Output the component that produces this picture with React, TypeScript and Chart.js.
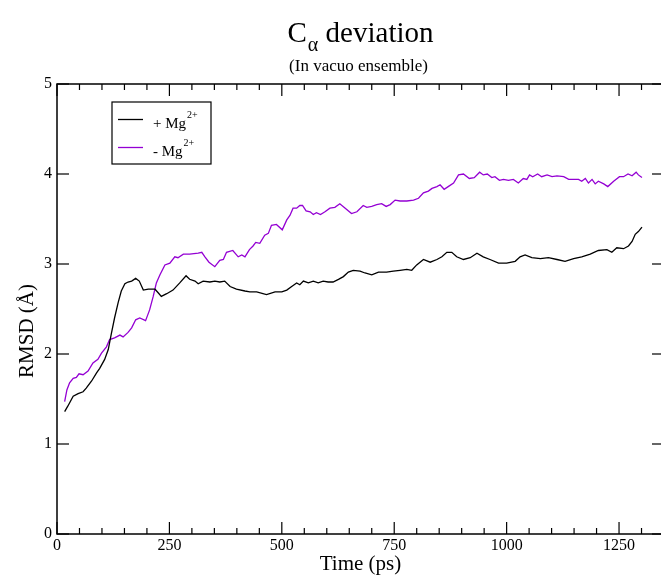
import React, { useEffect, useRef } from "react";
import { Chart, registerables } from "chart.js";

Chart.register(...registerables);

// ---- Data ----
const plusMgTime = [17, 24, 36, 47, 58, 65, 77, 88, 95, 106, 114, 121, 128, 136, 143, 151, 158, 166, 175, 183, 192, 203, 218, 225, 232, 244, 258, 273, 287, 295, 307, 314, 325, 340, 351, 362, 373, 385, 399, 418, 429, 444, 466, 485, 500, 511, 522, 533, 540, 548, 559, 570, 581, 592, 603, 614, 626, 637, 648, 659, 674, 685, 700, 715, 733, 748, 763, 778, 789, 800, 815, 830, 845, 856, 867, 878, 889, 904, 919, 934, 948, 963, 982, 1000, 1019, 1030, 1041, 1056, 1075, 1093, 1112, 1130, 1149, 1167, 1186, 1204, 1223, 1234, 1245, 1260, 1271, 1279, 1286, 1293, 1301];
const plusMgRmsd = [1.36, 1.42, 1.53, 1.56, 1.58, 1.62, 1.70, 1.79, 1.84, 1.94, 2.05, 2.23, 2.40, 2.57, 2.70, 2.78, 2.80, 2.81, 2.84, 2.81, 2.71, 2.72, 2.72, 2.68, 2.64, 2.67, 2.71, 2.79, 2.87, 2.83, 2.81, 2.78, 2.81, 2.80, 2.81, 2.80, 2.81, 2.75, 2.72, 2.70, 2.69, 2.69, 2.66, 2.69, 2.69, 2.71, 2.75, 2.79, 2.77, 2.81, 2.79, 2.81, 2.79, 2.81, 2.80, 2.80, 2.83, 2.86, 2.91, 2.93, 2.92, 2.90, 2.88, 2.91, 2.91, 2.92, 2.93, 2.94, 2.93, 2.99, 3.05, 3.02, 3.05, 3.08, 3.13, 3.13, 3.08, 3.05, 3.07, 3.12, 3.08, 3.05, 3.01, 3.01, 3.03, 3.08, 3.10, 3.07, 3.06, 3.07, 3.05, 3.03, 3.06, 3.08, 3.11, 3.15, 3.16, 3.13, 3.18, 3.17, 3.20, 3.25, 3.33, 3.36, 3.41];

const minusMgTime = [17, 22, 28, 36, 43, 49, 58, 69, 80, 91, 99, 110, 117, 128, 140, 147, 158, 166, 175, 184, 197, 206, 214, 221, 229, 240, 251, 262, 269, 281, 295, 314, 322, 329, 338, 351, 362, 370, 377, 391, 403, 411, 418, 428, 436, 442, 451, 462, 470, 477, 488, 501, 511, 518, 525, 533, 540, 546, 554, 563, 570, 577, 586, 596, 607, 618, 629, 641, 655, 667, 681, 689, 700, 711, 722, 732, 741, 752, 763, 778, 793, 804, 815, 826, 834, 845, 852, 861, 870, 882, 893, 904, 917, 928, 940, 948, 957, 967, 974, 984, 993, 1004, 1015, 1026, 1037, 1045, 1051, 1058, 1069, 1078, 1090, 1101, 1112, 1127, 1138, 1149, 1160, 1167, 1175, 1182, 1190, 1197, 1204, 1216, 1225, 1238, 1251, 1260, 1270, 1279, 1288, 1293, 1301];
const minusMgRmsd = [1.47, 1.60, 1.68, 1.73, 1.74, 1.78, 1.77, 1.81, 1.90, 1.94, 2.01, 2.08, 2.16, 2.18, 2.21, 2.19, 2.24, 2.29, 2.38, 2.40, 2.37, 2.49, 2.64, 2.79, 2.88, 2.99, 3.01, 3.08, 3.07, 3.11, 3.11, 3.12, 3.13, 3.08, 3.02, 2.97, 3.04, 3.05, 3.13, 3.15, 3.08, 3.10, 3.08, 3.16, 3.20, 3.24, 3.23, 3.32, 3.34, 3.43, 3.44, 3.38, 3.49, 3.54, 3.62, 3.62, 3.65, 3.65, 3.59, 3.58, 3.55, 3.57, 3.55, 3.58, 3.62, 3.63, 3.67, 3.62, 3.56, 3.58, 3.65, 3.63, 3.64, 3.66, 3.67, 3.64, 3.66, 3.71, 3.70, 3.70, 3.71, 3.73, 3.79, 3.81, 3.84, 3.86, 3.88, 3.83, 3.86, 3.90, 3.99, 4.00, 3.95, 3.96, 4.02, 3.99, 4.00, 3.96, 3.97, 3.93, 3.94, 3.93, 3.94, 3.90, 3.95, 3.94, 3.99, 3.97, 4.00, 3.97, 3.99, 3.97, 3.98, 3.97, 3.94, 3.94, 3.94, 3.92, 3.95, 3.90, 3.94, 3.89, 3.92, 3.89, 3.86, 3.92, 3.97, 3.97, 4.00, 3.98, 4.02, 3.99, 3.96];

const xMajorTicks = [0, 250, 500, 750, 1000, 1250];
const xMinorTicks = [50, 100, 150, 200, 300, 350, 400, 450, 550, 600, 650, 700, 800, 850, 900, 950, 1050, 1100, 1150, 1200, 1300];
const yMajorTicks = [0, 1, 2, 3, 4, 5];

const seriesLabels = ["+ Mg", "- Mg"];
const seriesSup = "2+";
const titleMain = "C";
const titleSub = "\u03B1";
const titleRest = " deviation";
const subtitleText = "(In vacuo ensemble)";
const xTitle = "Time (ps)";
const yTitle = "RMSD (\u00C5)";

const FONT = "'Liberation Serif', 'Times New Roman', serif";
const BLACK = "#000000";
const VIOLET = "rgb(148,0,211)";

const decorPlugin = {
  id: "decor",
  afterDatasetsDraw(chart: any) {
    const { ctx, chartArea, scales } = chart;
    const { left, right, top, bottom } = chartArea;
    const x = scales.x;
    const y = scales.y;
    ctx.save();
    ctx.strokeStyle = "#000";
    ctx.lineWidth = 1.5;
    ctx.strokeRect(left, top, right - left, bottom - top);
    const seg = (x1: number, y1: number, x2: number, y2: number) => {
      ctx.beginPath();
      ctx.moveTo(x1, y1);
      ctx.lineTo(x2, y2);
      ctx.stroke();
    };
    ctx.lineWidth = 1.2;
    for (const v of xMinorTicks) {
      const px = x.getPixelForValue(v);
      seg(px, bottom, px, bottom - 6);
      seg(px, top, px, top + 6);
    }
    for (const v of xMajorTicks) {
      const px = x.getPixelForValue(v);
      seg(px, bottom, px, bottom - 12);
      seg(px, top, px, top + 12);
    }
    for (const v of yMajorTicks) {
      const py = y.getPixelForValue(v);
      seg(left, py, left + 12, py);
      seg(right, py, right - 12, py);
    }

    // Legend
    const lx = 112, ly = 102, lw = 99, lh = 62;
    ctx.lineWidth = 1.2;
    ctx.strokeRect(lx, ly, lw, lh);
    const rows = [119.5, 147.5];
    chart.data.datasets.forEach((ds: any, i: number) => {
      const ry = rows[i];
      ctx.strokeStyle = ds.borderColor;
      ctx.lineWidth = 1.3;
      seg(118, ry, 143, ry);
      ctx.fillStyle = "#000";
      ctx.textAlign = "left";
      ctx.textBaseline = "alphabetic";
      ctx.font = `15px ${FONT}`;
      const t = seriesLabels[i];
      ctx.fillText(t, 153, ry + 8);
      const w = ctx.measureText(t).width;
      ctx.font = `10px ${FONT}`;
      ctx.fillText(seriesSup, 153 + w + 1, ry - 2);
    });

    // Title
    ctx.fillStyle = "#000";
    ctx.textBaseline = "alphabetic";
    ctx.textAlign = "left";
    ctx.font = `29px ${FONT}`;
    const wC = ctx.measureText(titleMain).width;
    const wR = ctx.measureText(titleRest).width;
    ctx.font = `20px ${FONT}`;
    const wA = ctx.measureText(titleSub).width;
    const total = wC + 1 + wA + wR;
    const cx = (left + right) / 2;
    let tx = cx - total / 2;
    const base = 42;
    ctx.font = `29px ${FONT}`;
    ctx.fillText(titleMain, tx, base);
    tx += wC + 1;
    ctx.font = `20px ${FONT}`;
    ctx.fillText(titleSub, tx, base + 9);
    tx += wA;
    ctx.font = `29px ${FONT}`;
    ctx.fillText(titleRest, tx, base);

    ctx.textAlign = "center";
    ctx.font = `17px ${FONT}`;
    ctx.fillText(subtitleText, cx - 2, 71);

    // Y axis title
    ctx.save();
    ctx.translate(27, 331);
    ctx.rotate(-Math.PI / 2);
    ctx.textAlign = "center";
    ctx.textBaseline = "middle";
    ctx.font = `21px ${FONT}`;
    ctx.fillText(yTitle, 0, 0);
    ctx.restore();

    ctx.restore();
  },
};

export default function App() {
  const ref = useRef<HTMLCanvasElement | null>(null);
  useEffect(() => {
    if (!ref.current) return;
    const chart = new Chart(ref.current, {
      type: "line",
      data: {
        datasets: [
          {
            label: "+ Mg2+",
            data: plusMgTime.map((t, i) => ({ x: t, y: plusMgRmsd[i] })),
            borderColor: BLACK,
            borderWidth: 1.3,
            pointRadius: 0,
            tension: 0,
          },
          {
            label: "- Mg2+",
            data: minusMgTime.map((t, i) => ({ x: t, y: minusMgRmsd[i] })),
            borderColor: VIOLET,
            borderWidth: 1.3,
            pointRadius: 0,
            tension: 0,
          },
        ],
      },
      options: {
        responsive: false,
        animation: false,
        layout: { padding: { top: 84, right: 16, left: 0, bottom: 0 } },
        plugins: {
          legend: { display: false },
          title: { display: false },
          tooltip: { enabled: false },
        },
        scales: {
          x: {
            type: "linear",
            min: 0,
            max: 1350,
            afterBuildTicks: (s: any) => {
              s.ticks = xMajorTicks.map((v) => ({ value: v }));
            },
            afterFit: (s: any) => {
              s.height = 41;
            },
            grid: { display: false, drawTicks: false },
            border: { display: false },
            ticks: {
              color: "#000",
              padding: 2,
              maxRotation: 0,
              autoSkip: false,
              font: { family: FONT, size: 16 },
              callback: (v: any) => String(v),
            },
            title: {
              display: true,
              text: xTitle,
              color: "#000",
              font: { family: FONT, size: 21, lineHeight: 1 },
              padding: { top: 0, bottom: 0 },
            },
          },
          y: {
            type: "linear",
            min: 0,
            max: 5,
            afterBuildTicks: (s: any) => {
              s.ticks = yMajorTicks.map((v) => ({ value: v }));
            },
            afterFit: (s: any) => {
              s.width = 57;
            },
            grid: { display: false, drawTicks: false },
            border: { display: false },
            ticks: {
              color: "#000",
              padding: 5,
              autoSkip: false,
              font: { family: FONT, size: 16 },
              callback: (v: any) => String(v),
            },
          },
        },
      },
      plugins: [decorPlugin],
    });
    return () => chart.destroy();
  }, []);

  return (
    <div
      style={{
        position: "absolute",
        left: 0,
        top: 0,
        width: 661,
        height: 575,
        overflow: "hidden",
        background: "#fff",
      }}
    >
      <canvas ref={ref} width={680} height={575} style={{ display: "block", width: 680, height: 575 }} />
    </div>
  );
}
